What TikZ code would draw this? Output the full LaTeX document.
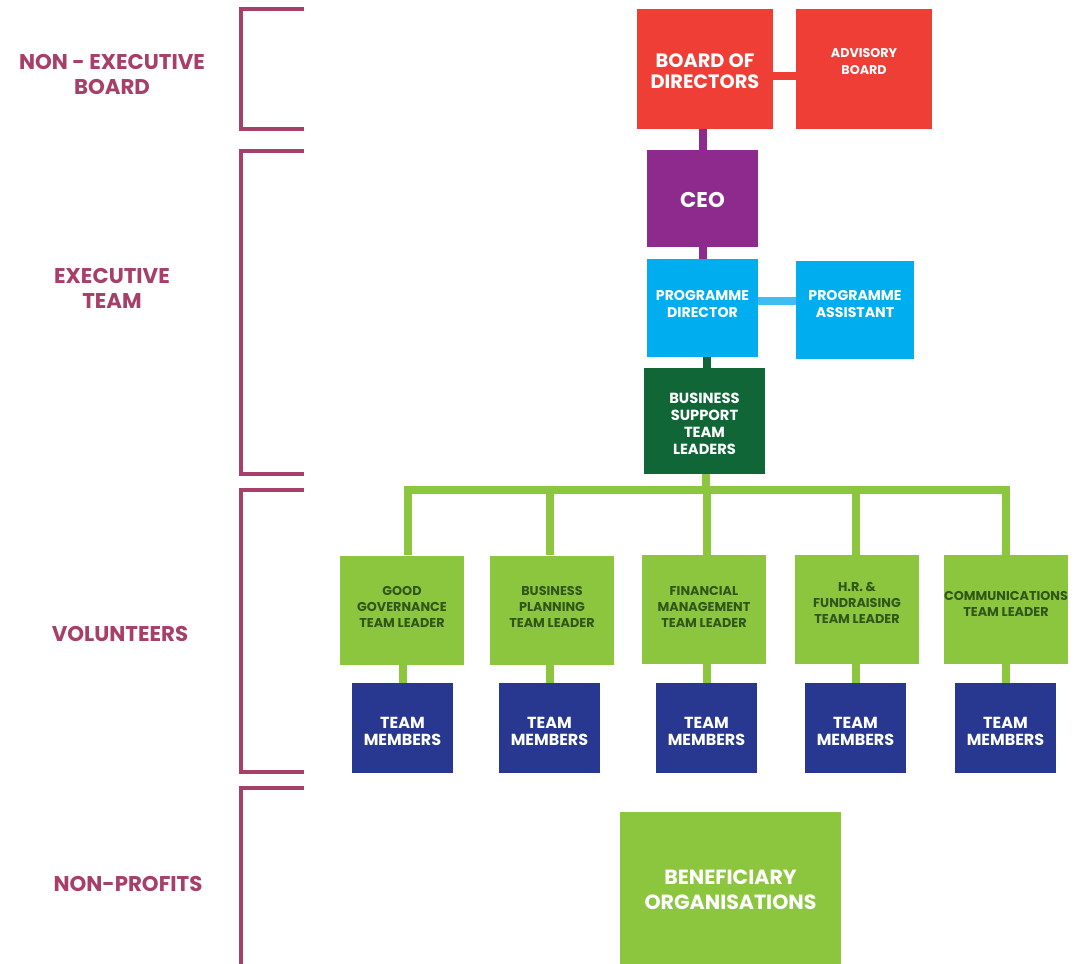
\documentclass[tikz,border=0pt]{standalone}
\usepackage{fontspec}
\setmainfont{Poppins}
\definecolor{tierrose}{HTML}{A63F6A}
\definecolor{boardred}{HTML}{EF3E36}
\definecolor{ceopurple}{HTML}{8E2A8E}
\definecolor{progblue}{HTML}{00AEEF}
\definecolor{linkblue}{HTML}{3EBDF0}
\definecolor{supportgreen}{HTML}{106636}
\definecolor{leafgreen}{HTML}{8CC63F}
\definecolor{leadertext}{HTML}{30561A}
\definecolor{membernavy}{HTML}{283890}
\begin{document}
\begin{tikzpicture}[
    x=0.75pt, y=-0.75pt,
    tier/.style={text=tierrose, align=center, inner sep=0pt,
        font=\fontsize{16pt}{18.75pt}\selectfont\bfseries},
    bracket/.style={draw=tierrose, line width=3pt},
    orgbox/.style={rectangle, inner sep=0pt},
    boxtext/.style={text=white, align=center, inner sep=0pt},
    boardbox/.style={orgbox, fill=boardred, minimum width=102pt, minimum height=90pt},
    ceobox/.style={orgbox, fill=ceopurple, minimum width=83.25pt, minimum height=72.75pt},
    progbox/.style={orgbox, fill=progblue, minimum height=73pt},
    supportbox/.style={orgbox, fill=supportgreen, minimum width=90.75pt, minimum height=79.5pt},
    leaderbox/.style={orgbox, fill=leafgreen, minimum width=93pt, minimum height=81.75pt},
    memberbox/.style={orgbox, fill=membernavy, minimum width=75.75pt, minimum height=67.5pt},
    benefbox/.style={orgbox, fill=leafgreen, minimum width=165.75pt, minimum height=114pt},
    bigtxt/.style={boxtext, font=\fontsize{14.5pt}{15.75pt}\selectfont\bfseries},
    smalltxt/.style={boxtext, font=\fontsize{9.5pt}{12.75pt}\selectfont\bfseries},
    midtxt/.style={boxtext, font=\fontsize{10.6pt}{12.75pt}\selectfont\bfseries},
    leadertxt/.style={boxtext, text=leadertext, font=\fontsize{9.6pt}{12pt}\selectfont\bfseries},
    membertxt/.style={boxtext, yshift=-2.25pt, font=\fontsize{12pt}{12.75pt}\selectfont\bfseries},
    link/.style={line width=6pt}
]
\useasboundingbox (0,0) rectangle (1076,964);

\draw[bracket] (304,9) -- (241,9) -- (241,129) -- (304,129);
\draw[bracket] (304,151) -- (241,151) -- (241,474) -- (304,474);
\draw[bracket] (304,490) -- (241,490) -- (241,772) -- (304,772);
\draw[bracket] (304,788) -- (241,788) -- (241,964);

\node (nonexec) [tier] at (112,74.5) {NON - EXECUTIVE\\BOARD};
\node (execteam) [tier] at (112,288) {EXECUTIVE\\TEAM};
\node (volunteers) [tier] at (120,634) {VOLUNTEERS};
\node (nonprofits) [tier] at (128,884) {NON-PROFITS};

\node (board) [boardbox, label={[bigtxt, yshift=-1.5pt]center:BOARD OF\\DIRECTORS}] at (705,69) {};
\node (advisory) [boardbox, label={[smalltxt, yshift=5.25pt]center:ADVISORY\\BOARD}] at (864,69) {};
\node (ceo) [ceobox, label={[bigtxt, yshift=-1pt, font=\fontsize{16pt}{16pt}\selectfont\bfseries]center:CEO}]
    at (702.5,198.5) {};
\node (progdir) [progbox, minimum width=83.25pt, label={[midtxt, yshift=3pt]center:PROGRAMME\\DIRECTOR}]
    at (702.5,308) {};
\node (progasst) [progbox, minimum width=88.5pt, label={[midtxt, yshift=4.5pt]center:PROGRAMME\\ASSISTANT}]
    at (855,310) {};
\node (support) [supportbox, label={[midtxt, font=\fontsize{11pt}{12.75pt}\selectfont\bfseries,
    yshift=-2pt]center:BUSINESS\\SUPPORT\\TEAM\\LEADERS}] at (704.5,421) {};

\node (lead1) [leaderbox, label={[leadertxt, yshift=2.25pt]center:GOOD\\GOVERNANCE\\TEAM LEADER}]
    at (402,610) {};
\node (lead2) [leaderbox, label={[leadertxt, yshift=2.25pt]center:BUSINESS\\PLANNING\\TEAM LEADER}]
    at (552,610) {};
\node (lead3) [leaderbox, label={[leadertxt, yshift=2.25pt]center:FINANCIAL\\MANAGEMENT\\TEAM LEADER}]
    at (704,609.5) {};
\node (lead4) [leaderbox, label={[leadertxt, yshift=4.9pt]center:H.R. \&\\FUNDRAISING\\TEAM LEADER}]
    at (857,609.5) {};
\node (lead5) [leaderbox, label={[leadertxt, yshift=4.1pt]center:COMMUNICATIONS\\TEAM LEADER}]
    at (1006,609.5) {};

\node (team1) [memberbox, label={[membertxt]center:TEAM\\MEMBERS}] at (402.5,728) {};
\node (team2) [memberbox, label={[membertxt]center:TEAM\\MEMBERS}] at (549.5,728) {};
\node (team3) [memberbox, label={[membertxt]center:TEAM\\MEMBERS}] at (706.5,728) {};
\node (team4) [memberbox, label={[membertxt]center:TEAM\\MEMBERS}] at (855.5,728) {};
\node (team5) [memberbox, label={[membertxt]center:TEAM\\MEMBERS}] at (1005.5,728) {};

\node (benef) [benefbox, label={[boxtext, yshift=-1.5pt,
    font=\fontsize{15.4pt}{18.75pt}\selectfont\bfseries]center:BENEFICIARY\\ORGANISATIONS}]
    at (730.5,888) {};

\coordinate (bus) at (706,490);

\draw[link, boardred] ([yshift=-5.25pt]board.east) -- ([yshift=-5.25pt]advisory.west);
\draw[link, ceopurple] (ceo.north) -- (ceo.north |- board.south);
\draw[link, ceopurple] (ceo.south) -- (ceo.south |- progdir.north);
\draw[link, linkblue] ([yshift=5.25pt]progdir.east) -- ([yshift=5.25pt]progdir.east -| progasst.west);
\draw[link, supportgreen] ([xshift=3pt]progdir.south) -- ([xshift=3pt]progdir.south |- support.north);
\draw[link, leafgreen] (support.south -| bus) -- (bus);
\foreach \i/\dx in {1/4.1pt, 2/0pt, 3/0pt, 4/0pt, 5/0pt} {
  \draw[link, leafgreen] ([xshift=\dx]lead\i.north -| team\i.north) |- (bus);
  \draw[link, leafgreen] (team\i.north) -- (team\i.north |- lead\i.south);
}
\end{tikzpicture}
\end{document}
